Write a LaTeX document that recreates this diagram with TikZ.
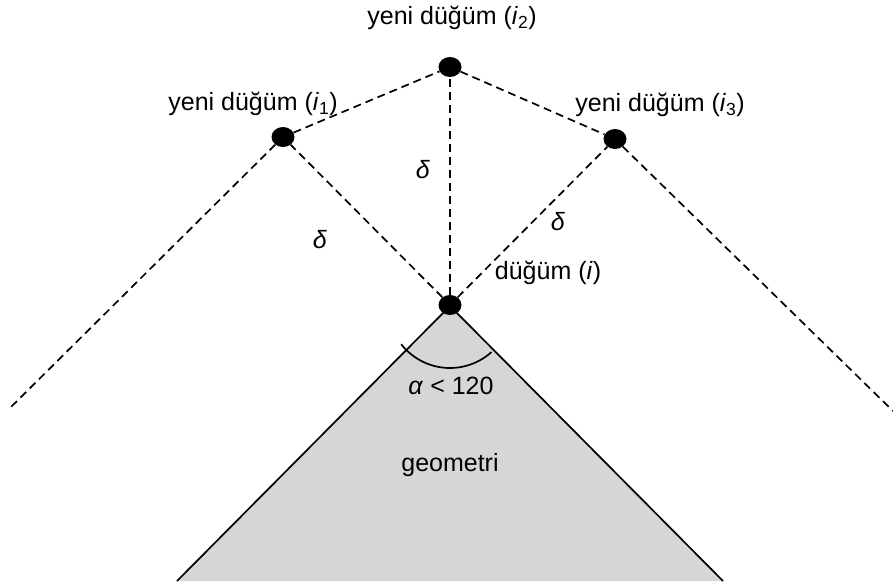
\documentclass[tikz,border=0pt]{standalone}
\usepackage{fontspec}
\setmainfont{Liberation Sans}
\usetikzlibrary{shapes.geometric}

\tikzset{
  dot/.style={draw=none, fill=black, ellipse, minimum width=23pt, minimum height=20pt, inner sep=0pt},
  link/.style={dash pattern=on 8pt off 5pt, line width=1.7pt},
  lbl/.style={font=\fontsize{25}{30}\selectfont, inner sep=1pt}
}

\begin{document}
\begin{tikzpicture}[x=1pt, y=-1pt]
\useasboundingbox (0,0) rectangle (893,582);
% geometry wedge
\fill[black!16] (450,306) -- (177,581) -- (723,581) -- cycle;
\draw[line width=1.7pt] (177,581) -- (450,306) -- (723,581);
\draw[line width=1.7pt] (450,306) ++(142:62) arc[start angle=142, end angle=48, radius=62];

% nodes
\node[dot] (i) at (450,305) {};
\node[dot] (i1) at (283,137) {};
\node[dot] (i2) at (450,67) {};
\node[dot] (i3) at (615,139) {};
\coordinate (lend) at (10,408);
\coordinate (rend) at (893,411);

% dashed links
\draw[link] (i) -- (i1);
\draw[link] (i) -- (i2);
\draw[link] (i) -- (i3);
\draw[link] (i1) -- (i2);
\draw[link] (i2) -- (i3);
\draw[link] (i1) -- (lend);
\draw[link] (i3) -- (rend);

% labels
\node[lbl] (t2) at (452,18) {yeni düğüm (\textit{i}\textsubscript{2})};
\node[lbl] (t1) at (253,104) {yeni düğüm (\textit{i}\textsubscript{1})};
\node[lbl] (t3) at (660,105) {yeni düğüm (\textit{i}\textsubscript{3})};
\node[lbl] (ti) at (548,273) {düğüm (\textit{i})};
\node[lbl] (d2) at (423,170) {\textit{δ}};
\node[lbl] (d1) at (320,240) {\textit{δ}};
\node[lbl] (d3) at (558,222) {\textit{δ}};
\node[lbl] (al) at (451,386) {\textit{α} < 120};
\node[lbl] (geo) at (450,465) {geometri};
\end{tikzpicture}
\end{document}
